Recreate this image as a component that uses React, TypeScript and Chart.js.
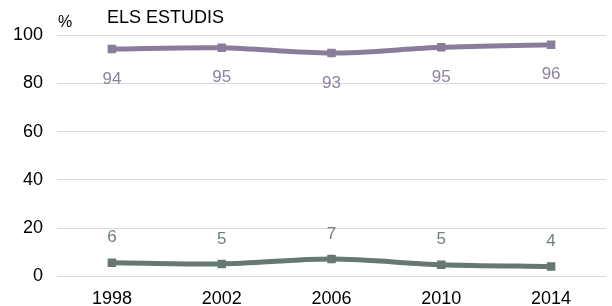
import React, { useEffect, useRef } from "react";
import { Chart, registerables } from "chart.js";

Chart.register(...registerables);

const years = ["1998", "2002", "2006", "2010", "2014"];
const topValues = [94.2, 94.7, 92.5, 94.9, 96.0];
const topLabels = ["94", "95", "93", "95", "96"];
const bottomValues = [5.7, 5.2, 7.2, 4.9, 4.1];
const bottomLabels = ["6", "5", "7", "5", "4"];
const yTicks = [0, 20, 40, 60, 80, 100];

const TOP_COLOR = "#8a7d9b";
const BOTTOM_COLOR = "#66786f";
const FONT = "'Liberation Sans', Arial, sans-serif";

const labelPlugin = {
  id: "valueLabels",
  afterDatasetsDraw(chart: any) {
    const ctx = chart.ctx;
    ctx.save();
    ctx.font = `17px ${FONT}`;
    ctx.textAlign = "center";
    ctx.textBaseline = "middle";
    const sets = [
      { idx: 0, labels: topLabels, dy: 30, color: "#8e82a0" },
      { idx: 1, labels: bottomLabels, dy: -25, color: "#6f8178" },
    ];
    sets.forEach((s) => {
      const meta = chart.getDatasetMeta(s.idx);
      meta.data.forEach((pt: any, i: number) => {
        ctx.fillStyle = s.color;
        ctx.fillText(s.labels[i], pt.x, pt.y + s.dy);
      });
    });
    ctx.restore();
  },
};

const headerPlugin = {
  id: "header",
  afterDraw(chart: any) {
    const ctx = chart.ctx;
    ctx.save();
    ctx.fillStyle = "#000";
    ctx.textBaseline = "middle";
    ctx.textAlign = "left";
    ctx.font = `16px ${FONT}`;
    ctx.fillText("%", 58, 23);
    ctx.font = `18px ${FONT}`;
    ctx.fillText("ELS ESTUDIS", 107, 18);
    ctx.restore();
  },
};

export default function App() {
  const ref = useRef<HTMLCanvasElement>(null);
  useEffect(() => {
    document.body.style.margin = "0";
    const chart = new Chart(ref.current!, {
      type: "line",
      data: {
        labels: years,
        datasets: [
          {
            data: topValues,
            borderColor: TOP_COLOR,
            backgroundColor: TOP_COLOR,
            borderWidth: 5,
            pointStyle: "rect",
            pointRadius: 6,
            pointBorderWidth: 0,
            tension: 0.3,
          },
          {
            data: bottomValues,
            borderColor: BOTTOM_COLOR,
            backgroundColor: BOTTOM_COLOR,
            borderWidth: 5,
            pointStyle: "rect",
            pointRadius: 6,
            pointBorderWidth: 0,
            tension: 0.3,
          },
        ],
      },
      options: {
        animation: false,
        responsive: false,
        layout: { padding: { top: 35, right: 0, left: 0, bottom: 0 } },
        plugins: { legend: { display: false }, tooltip: { enabled: false } },
        scales: {
          x: {
            offset: true,
            grid: { display: false },
            border: { display: false },
            ticks: { color: "#000", font: { family: FONT, size: 18 }, padding: 4 },
            afterFit: (s: any) => {
              s.height = 29.5;
            },
          },
          y: {
            min: 0,
            max: 100,
            afterBuildTicks: (s: any) => {
              s.ticks = yTicks.map((v) => ({ value: v }));
            },
            grid: { color: "#d9d9d9", drawTicks: false },
            border: { display: false },
            ticks: { color: "#000", font: { family: FONT, size: 18 }, padding: 14 },
            afterFit: (s: any) => {
              s.width = 57;
            },
          },
        },
      },
      plugins: [labelPlugin, headerPlugin],
    });
    return () => chart.destroy();
  }, []);
  return (
    <div style={{ width: 612, height: 306 }}>
      <canvas ref={ref} width={612} height={306} />
    </div>
  );
}
